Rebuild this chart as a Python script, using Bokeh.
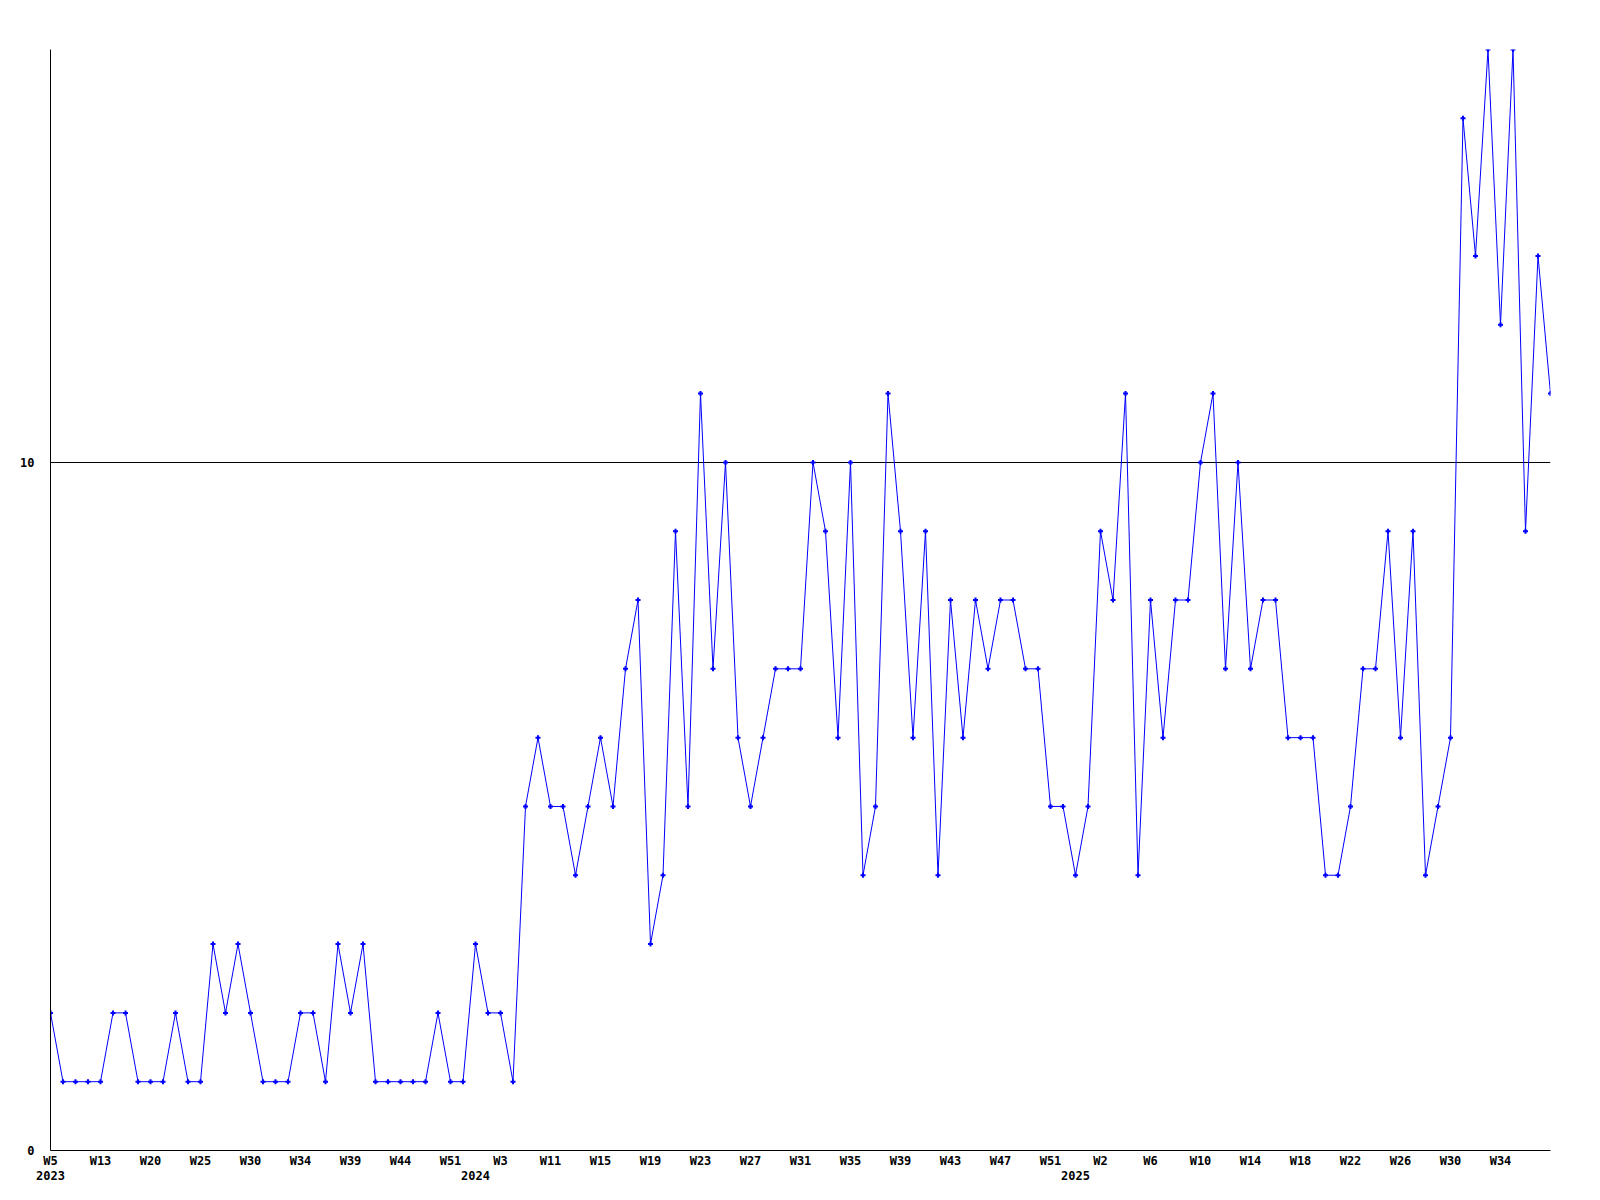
from bokeh.plotting import figure
from bokeh.models import Range1d, FixedTicker, LinearAxis, ColumnDataSource
from bokeh.embed import file_html
from bokeh.resources import INLINE

# weekly counts, one per point
values = [2, 1, 1, 1, 1, 2, 2, 1, 1, 1, 2, 1, 1, 3, 2, 3, 2, 1, 1, 1,
          2, 2, 1, 3, 2, 3, 1, 1, 1, 1, 1, 2, 1, 1, 3, 2, 2, 1,
          5, 6, 5, 5, 4, 5, 6, 5, 7, 8,
          3, 4, 9, 5, 11, 7, 10, 6, 5, 6,
          7, 7, 7, 10, 9, 6, 10, 4, 5, 11,
          9, 6, 9, 4, 8, 6, 8, 7, 8, 8,
          7, 7, 5, 5, 4, 5, 9, 8, 11, 4,
          8, 6, 8, 8, 10, 11, 7, 10, 7, 8,
          8, 6, 6, 6, 4, 4, 5, 7, 7, 9,
          6, 9, 4, 5, 6, 15, 13, 16, 12, 16,
          9, 13, 11]

week_labels = ["W5", "W13", "W20", "W25", "W30", "W34", "W39", "W44", "W51", "W3",
               "W11", "W15", "W19", "W23", "W27", "W31", "W35", "W39", "W43", "W47",
               "W51", "W2", "W6", "W10", "W14", "W18", "W22", "W26", "W30", "W34"]
label_step = 4

year_labels = ["2023", "2024", "2025"]
year_start_index = [0, 34, 82]

y_ticks = [0, 10]
y_max = 16

xs = list(range(len(values)))
src = ColumnDataSource(dict(x=xs, y=values))

FONT = "DejaVu Sans Mono"
FSIZE = "12px"

p = figure(width=1590, height=1182, output_backend="svg", toolbar_location=None,
           x_range=Range1d(0, len(values) - 1), y_range=Range1d(0, y_max),
           min_border_left=50, min_border_top=49, min_border_right=40, min_border_bottom=30,
           x_axis_type=None)
p.outline_line_color = None
p.background_fill_color = "white"
p.border_fill_color = "white"

# grid: only the line at 10
p.xgrid.visible = False
p.ygrid.ticker = FixedTicker(ticks=[t for t in y_ticks if t != 0])
p.ygrid.grid_line_color = "black"
p.ygrid.grid_line_width = 1

# y axis
yax = p.yaxis[0]
yax.ticker = FixedTicker(ticks=y_ticks)
yax.major_tick_out = 0
yax.major_tick_in = 0
yax.minor_tick_out = 0
yax.minor_tick_in = 0
yax.major_label_standoff = 16
yax.major_label_text_font = FONT
yax.major_label_text_font_style = "bold"
yax.major_label_text_font_size = FSIZE
yax.major_label_text_color = "black"
yax.axis_line_color = "black"

# week axis
tick_pos = list(range(0, len(values), label_step))[:len(week_labels)]
xax = LinearAxis(ticker=FixedTicker(ticks=tick_pos),
                 major_label_overrides={pos: lab for pos, lab in zip(tick_pos, week_labels)})
xax.major_tick_out = 0
xax.major_tick_in = 0
xax.minor_tick_out = 0
xax.minor_tick_in = 0
xax.major_label_standoff = 3
xax.major_label_text_font = FONT
xax.major_label_text_font_style = "bold"
xax.major_label_text_font_size = FSIZE
xax.major_label_text_color = "black"
xax.axis_line_color = "black"
p.add_layout(xax, "below")

# year axis
yr = LinearAxis(ticker=FixedTicker(ticks=year_start_index),
                major_label_overrides={pos: lab for pos, lab in zip(year_start_index, year_labels)})
yr.major_tick_out = 0
yr.major_tick_in = 0
yr.minor_tick_out = 0
yr.minor_tick_in = 0
yr.major_label_standoff = 0
yr.axis_line_color = None
yr.major_label_text_font = FONT
yr.major_label_text_font_style = "bold"
yr.major_label_text_font_size = FSIZE
yr.major_label_text_color = "black"
p.add_layout(yr, "below")

p.line("x", "y", source=src, line_color="#0000ff", line_width=1)
p.scatter("x", "y", source=src, marker="cross", size=5, line_color="#0000ff", line_width=2)

open("out.html", "w").write(file_html(p, INLINE))
